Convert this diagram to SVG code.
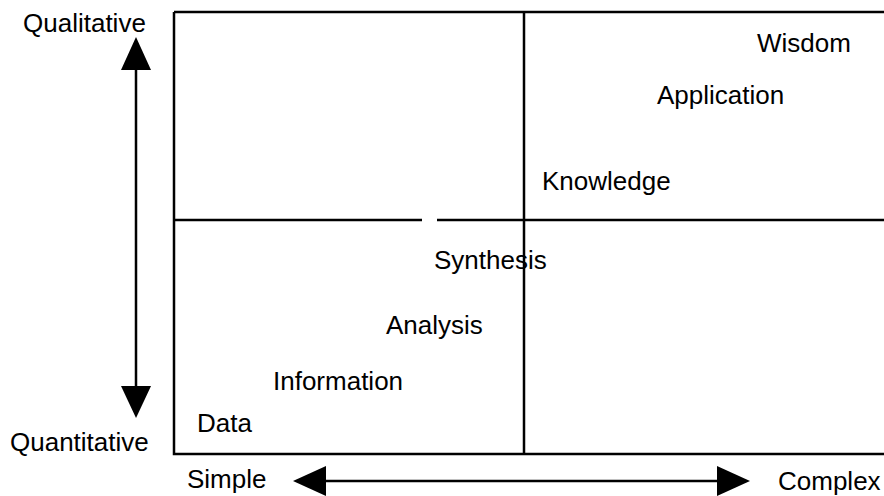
<svg xmlns="http://www.w3.org/2000/svg" width="884" height="496" viewBox="0 0 884 496">
<style>
.t{font-family:"Liberation Sans",Arial,sans-serif;font-size:26px;fill:#000}
.ln{stroke:#000;stroke-width:2.5;fill:none}
.ax{stroke:#000;stroke-width:2.5;fill:none}
.hd{fill:#000}
</style>
<rect width="884" height="496" fill="#fff"/>
<g id="frame">
<path class="ln" d="M174,12 H884 M174,12 V454 H884 M524,12 V454 M174,220 H422 M437,220 H884"/>
</g>
<g id="connectors">
<path class="ax" d="M136,68 V390"/>
<polygon class="hd" points="136,37 121,70 151,70"/>
<polygon class="hd" points="136,418 121,386 151,386"/>
<path class="ax" d="M322,481 H720"/>
<polygon class="hd" points="293,481 326,466 326,496"/>
<polygon class="hd" points="750,481 717,466 717,496"/>
</g>
<g id="axis-labels">
<text class="t" x="23" y="32">Qualitative</text>
<text class="t" x="10" y="451">Quantitative</text>
<text class="t" x="187" y="488">Simple</text>
<text class="t" x="778" y="490">Complex</text>
</g>
<g id="node-data"><text class="t" x="197" y="432">Data</text></g>
<g id="node-information"><text class="t" x="273" y="390">Information</text></g>
<g id="node-analysis"><text class="t" x="386" y="334">Analysis</text></g>
<g id="node-synthesis"><text class="t" x="434" y="269">Synthesis</text></g>
<g id="node-knowledge"><text class="t" x="542" y="190">Knowledge</text></g>
<g id="node-application"><text class="t" x="657" y="104">Application</text></g>
<g id="node-wisdom"><text class="t" x="757" y="52">Wisdom</text></g>
</svg>
